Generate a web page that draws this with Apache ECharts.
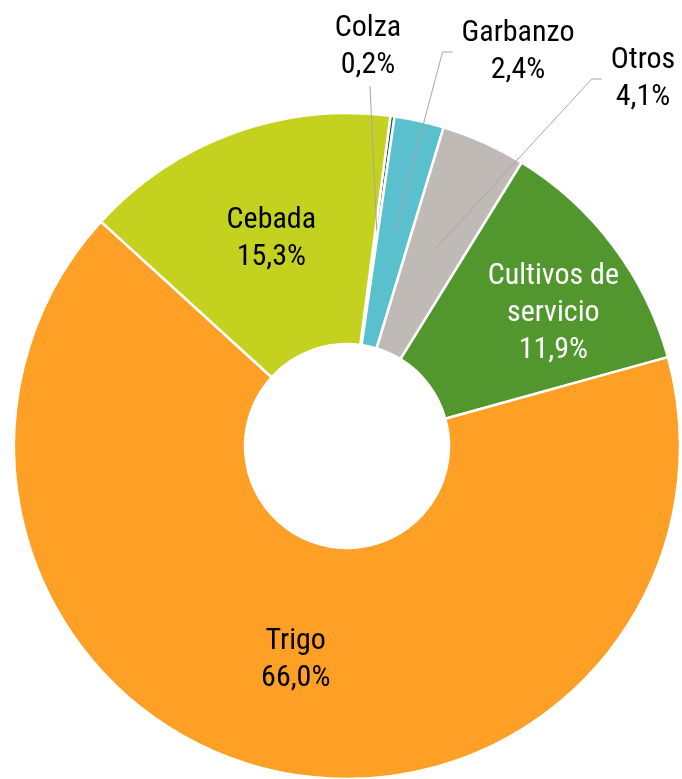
<!DOCTYPE html>
<html>
<head>
<meta charset="utf-8">
<script src="https://cdn.jsdelivr.net/npm/echarts@6/dist/echarts.min.js"></script>
<style>
html, body { margin: 0; padding: 0; background: #fff; }
#chart { width: 682px; height: 779px; }
</style>
</head>
<body>
<div id="chart"></div>
<script>
const CROPS = ['Colza', 'Garbanzo', 'Otros', 'Cultivos de servicio', 'Trigo', 'Cebada'];
const SHARES = [0.2, 2.4, 4.1, 11.9, 66.0, 15.3];
const COLORS = ['#1d5b6b', '#5bc0cd', '#c0bab7', '#52962e', '#fda025', '#c4d21f'];

const CENTER = [347, 446];
const RADIUS = [102, 333];
const START = 82.5;
const FONT = "'Roboto Condensed', 'Liberation Sans Narrow', 'DejaVu Sans Condensed', Roboto, sans-serif";

// callouts for the thin slices, placed by hand like in the original (centre of the text block)
const CALLOUTS = {
    'Colza': { x: 368, y: 47, below: true },
    'Garbanzo': { x: 518, y: 52 },
    'Otros': { x: 643, y: 79 }
};

const chart = echarts.init(document.getElementById('chart'));

const fmt = p => p.name.replace(' servicio', '\nservicio') + '\n' + p.value.toFixed(1).replace('.', ',') + '%';
const textStyle = { formatter: fmt, fontFamily: FONT, fontSize: 30, lineHeight: 37, color: '#000' };
const pieData = CROPS.map((name, i) => ({ name: name, value: SHARES[i] }));

chart.setOption({
    animation: false,
    color: COLORS,
    series: [{
        // the ring itself, with the labels that fit inside
        type: 'pie',
        center: CENTER,
        radius: RADIUS,
        startAngle: START,
        clockwise: true,
        avoidLabelOverlap: false,
        itemStyle: { borderColor: '#fff', borderWidth: 2.5 },
        label: Object.assign({ position: 'inside' }, textStyle),
        labelLine: { show: false },
        data: pieData.map(d => {
            if (CALLOUTS[d.name]) return Object.assign({ label: { show: false } }, d);
            if (d.name === 'Cultivos de servicio') return Object.assign({ label: { color: '#fff' } }, d);
            return d;
        }),
        labelLayout: function (params) {
            if (CROPS[params.dataIndex] !== 'Cultivos de servicio') return;
            // nudged a bit outward in the original
            const r = params.labelRect;
            return { x: r.x + r.width / 2 + 30, y: r.y + r.height / 2, align: 'center', verticalAlign: 'middle' };
        }
    }, {
        // same ring, invisible, on top: only carries the callouts so their lines cross the slices
        type: 'pie',
        z: 3,
        silent: true,
        center: CENTER,
        radius: RADIUS,
        startAngle: START,
        clockwise: true,
        avoidLabelOverlap: false,
        itemStyle: { color: 'rgba(0,0,0,0)', borderWidth: 0 },
        label: Object.assign({ position: 'outside' }, textStyle),
        labelLine: { show: true, lineStyle: { color: '#a6a6a6', width: 1 } },
        data: pieData.map(d => CALLOUTS[d.name] ? d : Object.assign({ label: { show: false }, labelLine: { show: false } }, d)),
        labelLayout: function (params) {
            const c = CALLOUTS[CROPS[params.dataIndex]];
            if (!c || !params.labelLinePoints) return;
            const r = params.labelRect;
            // leader line starts half way across the ring
            const p0 = params.labelLinePoints[0];
            const k = (RADIUS[0] + RADIUS[1]) / 2 / RADIUS[1];
            const start = [CENTER[0] + (p0[0] - CENTER[0]) * k, CENTER[1] + (p0[1] - CENTER[1]) * k];
            const left = c.x - r.width / 2;
            const pts = c.below
                ? [start, [c.x + 2, c.y + r.height / 2 + 2]]
                : [start, [left - 19, c.y], [left - 9, c.y]];
            return { x: c.x, y: c.y, align: 'center', verticalAlign: 'middle', labelLinePoints: pts };
        }
    }]
});
</script>
</body>
</html>
